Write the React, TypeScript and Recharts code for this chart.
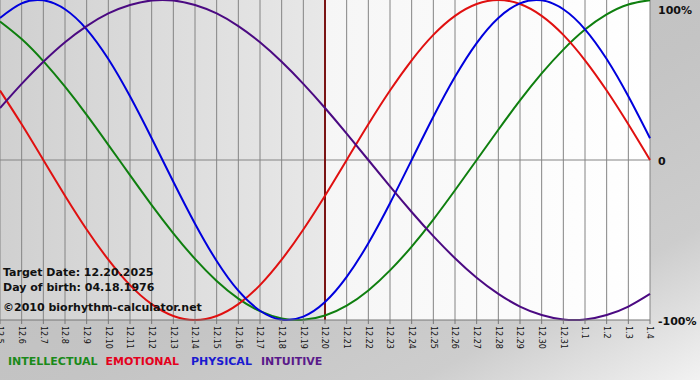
import {
  LineChart,
  Line,
  XAxis,
  YAxis,
  CartesianGrid,
  ReferenceLine,
  ReferenceArea,
} from "recharts";

const dayLabels = [
  "12.5", "12.6", "12.7", "12.8", "12.9", "12.10", "12.11", "12.12", "12.13", "12.14",
  "12.15", "12.16", "12.17", "12.18", "12.19", "12.20", "12.21", "12.22", "12.23", "12.24",
  "12.25", "12.26", "12.27", "12.28", "12.29", "12.30", "12.31", "1.1", "1.2", "1.3", "1.4",
];

const intellectual = [
  0.866, 0.756, 0.618, 0.458, 0.282, 0.095, -0.095, -0.282, -0.458, -0.618,
  -0.756, -0.866, -0.945, -0.99, -0.999, -0.972, -0.91, -0.815, -0.69, -0.541,
  -0.372, -0.189, 0, 0.189, 0.372, 0.541, 0.69, 0.815, 0.91, 0.972, 0.999,
];

const emotional = [
  0.434, 0.223, 0, -0.223, -0.434, -0.623, -0.782, -0.901, -0.975, -1,
  -0.975, -0.901, -0.782, -0.623, -0.434, -0.223, 0, 0.223, 0.434, 0.623,
  0.782, 0.901, 0.975, 1, 0.975, 0.901, 0.782, 0.623, 0.434, 0.223, 0,
];

const physical = [
  0.888, 0.979, 0.998, 0.942, 0.817, 0.631, 0.398, 0.136, -0.136, -0.398,
  -0.631, -0.817, -0.942, -0.998, -0.979, -0.888, -0.731, -0.52, -0.27, 0,
  0.27, 0.52, 0.731, 0.888, 0.979, 0.998, 0.942, 0.817, 0.631, 0.398, 0.136,
];

const intuitive = [
  0.325, 0.476, 0.614, 0.736, 0.837, 0.916, 0.969, 0.997, 0.997, 0.969,
  0.916, 0.837, 0.736, 0.614, 0.476, 0.325, 0.165, 0, -0.165, -0.325,
  -0.476, -0.614, -0.736, -0.837, -0.916, -0.969, -0.997, -0.997, -0.969, -0.916, -0.837,
];

const TARGET_INDEX = 15;
const percentTicks = [-1, 0, 1];
const percentLabels: Record<string, string> = { "-1": "-100%", "0": "0", "1": "100%" };

const COLORS = {
  intellectual: "#0f7f0f",
  emotional: "#e01010",
  physical: "#0000dd",
  intuitive: "#4b0a82",
};

const data = dayLabels.map((label, i) => ({
  day: i,
  label,
  intellectual: intellectual[i],
  emotional: emotional[i],
  physical: physical[i],
  intuitive: intuitive[i],
}));

const FONT = "'DejaVu Sans', Verdana, sans-serif";

// eslint-disable-next-line @typescript-eslint/no-explicit-any
function DayTick({ x, y, payload }: any) {
  return (
    <text
      x={x}
      y={y}
      transform={`rotate(90, ${x}, ${y})`}
      dy="0.35em"
      textAnchor="start"
      fontSize={8}
      fontFamily={FONT}
      fill="#111"
    >
      {dayLabels[payload.value]}
    </text>
  );
}

// eslint-disable-next-line @typescript-eslint/no-explicit-any
function PercentTick({ x, y, payload }: any) {
  const cy = Math.max(y, 6);
  return (
    <text x={x} y={cy} dy={5} textAnchor="start" fontSize={11} fontWeight="bold" fontFamily={FONT} fill="#111">
      {percentLabels[String(payload.value)]}
    </text>
  );
}

const noteStyle: React.CSSProperties = {
  position: "absolute",
  left: 3,
  fontFamily: FONT,
  fontWeight: "bold",
  fontSize: 11,
  lineHeight: "13px",
  color: "#111",
  whiteSpace: "nowrap",
};

export default function App() {
  return (
    <div
      style={{
        position: "absolute",
        left: 0,
        top: 0,
        width: 700,
        height: 380,
        background: "linear-gradient(to bottom right, #bcbcbc 0%, #c4c4c4 55%, #cdcdcd 80%, #f2f2f2 100%)",
        overflow: "hidden",
      }}
    >
      <LineChart width={700} height={380} data={data} margin={{ top: 0, right: 0, bottom: 0, left: 0 }}>
        <defs>
          <linearGradient id="pastFill" x1="0" y1="0" x2="1" y2="0">
            <stop offset="0%" stopColor="#d0d0d0" />
            <stop offset="100%" stopColor="#e8e8e8" />
          </linearGradient>
          <linearGradient id="futureFill" x1="0" y1="0" x2="1" y2="0">
            <stop offset="0%" stopColor="#f6f6f6" />
            <stop offset="100%" stopColor="#ffffff" />
          </linearGradient>
        </defs>
        <ReferenceArea x1={0} x2={TARGET_INDEX} y1={-1} y2={1} fill="url(#pastFill)" fillOpacity={1} stroke="none" zIndex={-200} />
        <ReferenceArea x1={TARGET_INDEX} x2={30} y1={-1} y2={1} fill="url(#futureFill)" fillOpacity={1} stroke="none" zIndex={-200} />
        <CartesianGrid horizontal={false} stroke="#848484" strokeWidth={1} />
        <XAxis
          dataKey="day"
          type="number"
          domain={[0, 30]}
          ticks={data.map((d) => d.day)}
          interval={0}
          height={60}
          tickSize={4}
          tickMargin={2}
          stroke="#777"
          tick={<DayTick />}
        />
        <YAxis
          orientation="right"
          type="number"
          domain={[-1, 1]}
          ticks={percentTicks}
          width={50}
          axisLine={false}
          tickLine={false}
          tickSize={0}
          tickMargin={8}
          tick={<PercentTick />}
        />
        <ReferenceLine y={0} stroke="#848484" strokeWidth={1} />
        <ReferenceLine x={TARGET_INDEX} stroke="#7a1414" strokeWidth={2} />
        <Line type="natural" dataKey="intellectual" stroke={COLORS.intellectual} strokeWidth={2} dot={false} activeDot={false} isAnimationActive={false} />
        <Line type="natural" dataKey="emotional" stroke={COLORS.emotional} strokeWidth={2} dot={false} activeDot={false} isAnimationActive={false} />
        <Line type="natural" dataKey="physical" stroke={COLORS.physical} strokeWidth={2} dot={false} activeDot={false} isAnimationActive={false} />
        <Line type="natural" dataKey="intuitive" stroke={COLORS.intuitive} strokeWidth={2} dot={false} activeDot={false} isAnimationActive={false} />
      </LineChart>

      <div style={{ ...noteStyle, top: 266 }}>Target Date: 12.20.2025</div>
      <div style={{ ...noteStyle, top: 281 }}>Day of birth: 04.18.1976</div>
      <div style={{ ...noteStyle, top: 301 }}>©2010 biorhythm-calculator.net</div>

      <div style={{ ...noteStyle, left: 8, top: 355 }}>
        <span style={{ color: "#1a8a1a", marginRight: 8 }}>INTELLECTUAL</span>
        <span style={{ color: "#e4001c", marginRight: 12 }}>EMOTIONAL</span>
        <span style={{ color: "#1a1ad0", marginRight: 9 }}>PHYSICAL</span>
        <span style={{ color: "#5a1a8a" }}>INTUITIVE</span>
      </div>
    </div>
  );
}
